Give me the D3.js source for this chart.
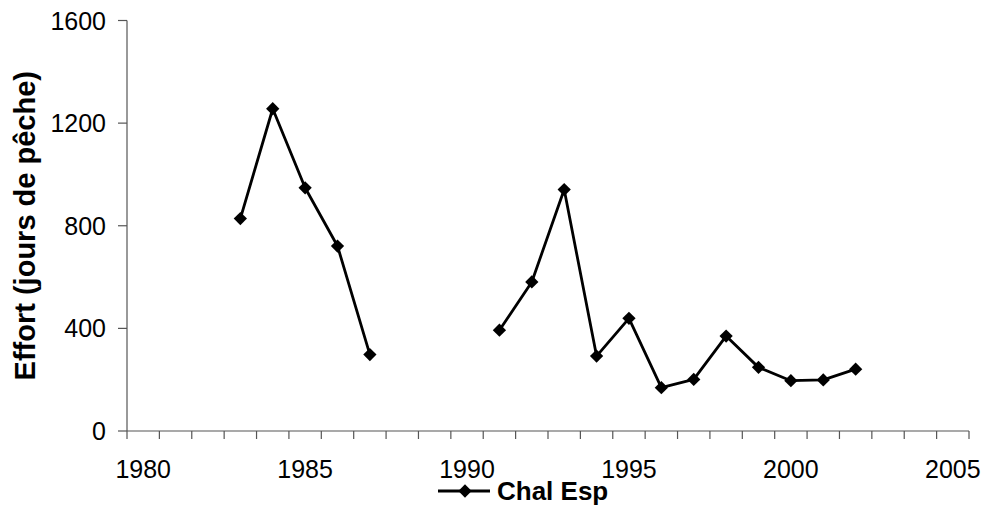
<!DOCTYPE html>
<html>
<head>
<meta charset="utf-8">
<script src="https://cdn.jsdelivr.net/npm/d3@7"></script>
<style>
  body { margin: 0; background: #fff; }
  svg { font-family: "Liberation Sans", Arial, sans-serif; }
</style>
</head>
<body>
<svg id="chart" width="985" height="509"></svg>
<script>
// categories (one per year, Excel style category axis)
const years = d3.range(1980, 2006);
// Chal Esp effort, null where there is no data
const effortYears = [1983, 1984, 1985, 1986, 1987, 1991, 1992, 1993, 1994, 1995, 1996, 1997, 1998, 1999, 2000, 2001, 2002];
const effortValues = [828, 1256, 948, 721, 298, 393, 581, 941, 292, 439, 169, 201, 370, 248, 196, 199, 241];
const yTicks = [0, 400, 800, 1200, 1600];
const xLabelYears = [1980, 1985, 1990, 1995, 2000, 2005];
const seriesName = "Chal Esp";
const yTitle = "Effort (jours de pêche)";

const svg = d3.select('#chart');
const plotLeft = 127, plotRight = 969, plotTop = 20.5, plotBottom = 431;
const axisColor = '#555';

const x = d3.scaleBand().domain(years).range([plotLeft, plotRight]);
const y = d3.scaleLinear().domain([0, 1600]).range([plotBottom, plotTop]);

// series with gaps for missing years
const series = years.map(yr => {
  const i = effortYears.indexOf(yr);
  return { year: yr, value: i < 0 ? null : effortValues[i] };
});

// y axis
svg.append('line')
  .attr('x1', plotLeft).attr('x2', plotLeft)
  .attr('y1', y(1600)).attr('y2', y(0))
  .attr('stroke', axisColor).attr('stroke-width', 1.2);

svg.selectAll('.ytick')
  .data(yTicks)
  .enter()
  .append('line')
  .attr('class', 'ytick')
  .attr('x1', plotLeft - 9).attr('x2', plotLeft)
  .attr('y1', d => y(d)).attr('y2', d => y(d))
  .attr('stroke', axisColor).attr('stroke-width', 1.2);

svg.selectAll('.ylabel')
  .data(yTicks)
  .enter()
  .append('text')
  .attr('class', 'ylabel')
  .attr('x', plotLeft - 21)
  .attr('y', d => y(d))
  .attr('dy', '0.36em')
  .attr('text-anchor', 'end')
  .attr('font-size', 25)
  .text(d => d);

// x axis, ticks at category boundaries
svg.append('line')
  .attr('x1', plotLeft).attr('x2', plotRight)
  .attr('y1', plotBottom).attr('y2', plotBottom)
  .attr('stroke', axisColor).attr('stroke-width', 1.2);

const boundaries = years.map(yr => x(yr)).concat([x(2005) + x.bandwidth()]);
svg.selectAll('.xtick')
  .data(boundaries)
  .enter()
  .append('line')
  .attr('class', 'xtick')
  .attr('x1', d => d).attr('x2', d => d)
  .attr('y1', plotBottom).attr('y2', plotBottom + 8)
  .attr('stroke', axisColor).attr('stroke-width', 1.2);

svg.selectAll('.xlabel')
  .data(xLabelYears)
  .enter()
  .append('text')
  .attr('class', 'xlabel')
  .attr('x', d => x(d) + x.bandwidth() / 2)
  .attr('y', 478)
  .attr('text-anchor', 'middle')
  .attr('font-size', 25)
  .text(d => d);

// y title
svg.append('text')
  .attr('transform', `translate(35,${(plotTop + plotBottom) / 2}) rotate(-90)`)
  .attr('text-anchor', 'middle')
  .attr('font-size', 29)
  .attr('font-weight', 'bold')
  .text(yTitle);

// line
const line = d3.line()
  .defined(d => d.value !== null)
  .x(d => x(d.year) + x.bandwidth() / 2)
  .y(d => y(d.value));

svg.append('path')
  .datum(series)
  .attr('d', line)
  .attr('fill', 'none')
  .attr('stroke', '#000')
  .attr('stroke-width', 2.8)
  .attr('stroke-linejoin', 'round');

const diamond = d3.symbol().type(d3.symbolSquare).size(88);

svg.selectAll('.marker')
  .data(series.filter(d => d.value !== null))
  .enter()
  .append('path')
  .attr('class', 'marker')
  .attr('d', diamond)
  .attr('transform', d => `translate(${x(d.year) + x.bandwidth() / 2},${y(d.value)}) rotate(45)`)
  .attr('fill', '#000');

// legend
const lg = svg.append('g').attr('transform', 'translate(438,491)');
lg.append('line')
  .attr('x1', 0).attr('x2', 52)
  .attr('stroke', '#000').attr('stroke-width', 2.8);
lg.append('path')
  .attr('d', diamond)
  .attr('transform', 'translate(27,0) rotate(45)')
  .attr('fill', '#000');
lg.append('text')
  .attr('x', 59)
  .attr('y', 9)
  .attr('font-size', 26)
  .attr('font-weight', 'bold')
  .text(seriesName);
</script>
</body>
</html>
